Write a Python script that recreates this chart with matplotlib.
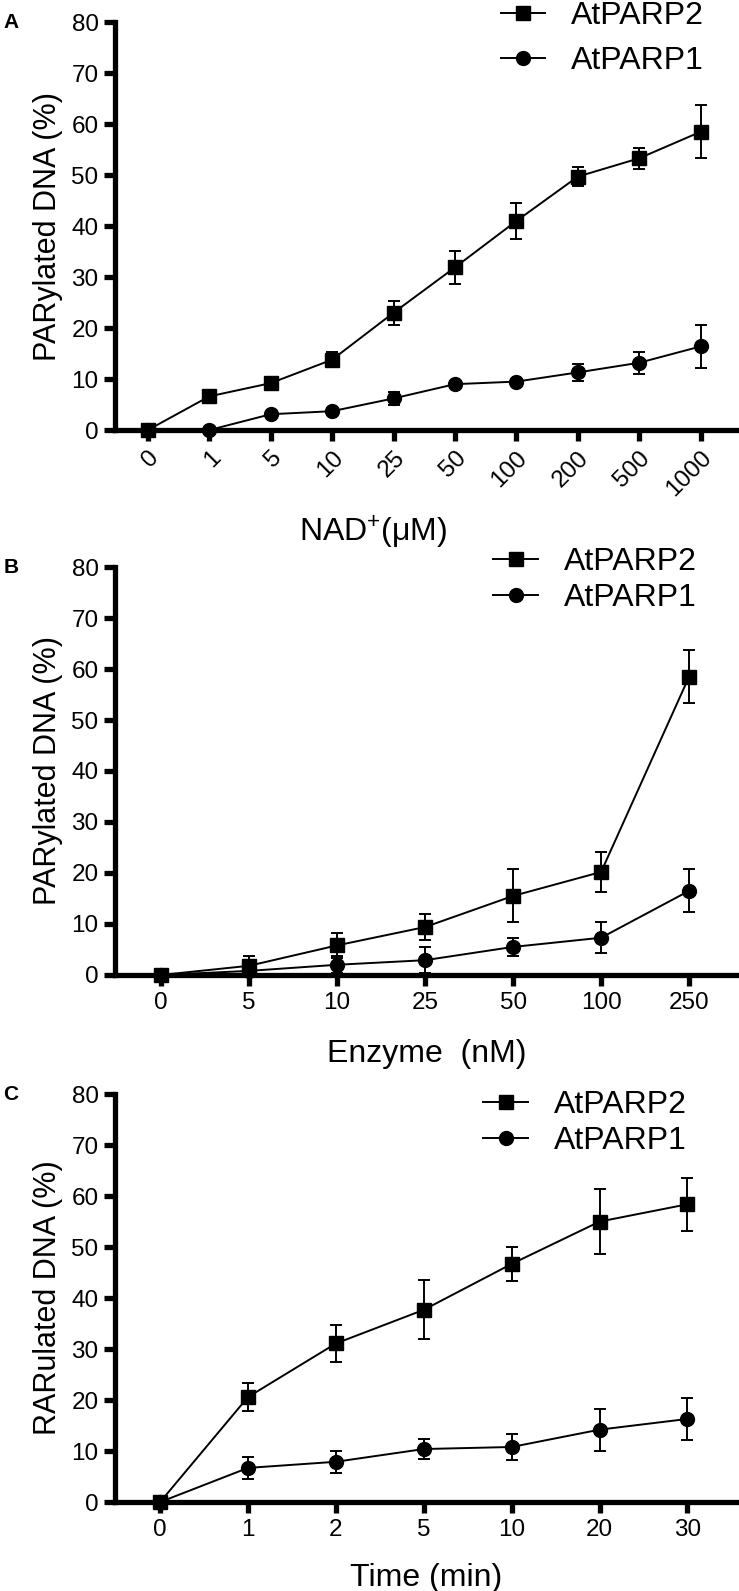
import matplotlib
matplotlib.use("Agg")
import matplotlib.pyplot as plt
from matplotlib.lines import Line2D

plt.rcParams['font.family'] = ['Liberation Sans', 'DejaVu Sans']
plt.rcParams['mathtext.fontset'] = 'custom'
plt.rcParams['mathtext.rm'] = 'Liberation Sans'

# Panel A - NAD+ titration
nad_labels = ['0', '1', '5', '10', '25', '50', '100', '200', '500', '1000']
nad_parp2 = [0, 6.6, 9.2, 13.8, 23.0, 31.9, 41.0, 49.7, 53.3, 58.5]
nad_parp2_err = [0, 0.6, 0.7, 1.5, 2.4, 3.2, 3.5, 1.8, 2.1, 5.2]
nad_parp1 = [0, 0, 3.1, 3.7, 6.2, 9.0, 9.5, 11.3, 13.2, 16.4]
nad_parp1_err = [0, 0, 0.5, 0.5, 1.2, 0.6, 0.5, 1.6, 2.2, 4.2]

# Panel B - enzyme titration
enz_labels = ['0', '5', '10', '25', '50', '100', '250']
enz_parp2 = [0, 1.8, 5.8, 9.4, 15.5, 20.2, 58.5]
enz_parp2_err = [0, 2.0, 2.5, 2.6, 5.2, 4.0, 5.2]
enz_parp1 = [0, 0.8, 2.0, 2.9, 5.5, 7.3, 16.5]
enz_parp1_err = [0, 1.0, 1.7, 2.5, 1.8, 3.0, 4.2]

# Panel C - time course
time_labels = ['0', '1', '2', '5', '10', '20', '30']
time_parp2 = [0, 20.6, 31.1, 37.7, 46.7, 55.0, 58.4]
time_parp2_err = [0, 2.7, 3.7, 5.8, 3.3, 6.3, 5.2]
time_parp1 = [0, 6.7, 7.9, 10.4, 10.8, 14.2, 16.3]
time_parp1_err = [0, 2.1, 2.2, 1.9, 2.5, 4.1, 4.2]

yticks = [0, 10, 20, 30, 40, 50, 60, 70, 80]


def draw_panel(ax, labels, p2, p2e, p1, p1e, xlabel, ylabel, xlim, letter,
               leg_anchor, leg_spacing, rotate=False, xlabel_x=0.5, xlabel_y=-0.1):
    x = list(range(len(labels)))
    for vals, errs, mk in [(p2, p2e, 's'), (p1, p1e, 'o')]:
        ax.errorbar(x, vals, yerr=errs, color='black', marker=mk, markersize=10,
                    linewidth=1.4, elinewidth=1.4, capsize=4.5, capthick=1.4,
                    clip_on=False, zorder=3)
    ax.set_xlim(*xlim)
    ax.set_ylim(0, 80)
    ax.set_yticks(yticks)
    ax.set_xticks(x)
    if rotate:
        ax.set_xticklabels(labels, rotation=45, ha='right', rotation_mode='anchor')
    else:
        ax.set_xticklabels(labels)
    for s in ['top', 'right']:
        ax.spines[s].set_visible(False)
    for s in ['left', 'bottom']:
        ax.spines[s].set_linewidth(3.8)
    ax.tick_params(axis='both', direction='out', length=8, width=3.8, labelsize=17.5, pad=4)
    ax.set_ylabel(ylabel, fontsize=22, labelpad=6)
    ax.set_xlabel(xlabel, fontsize=23)
    ax.xaxis.set_label_coords(xlabel_x, xlabel_y)

    handles = [Line2D([], [], color='black', marker='s', markersize=10, linewidth=1.4),
               Line2D([], [], color='black', marker='o', markersize=10, linewidth=1.4)]
    ax.legend(handles, ['AtPARP2', 'AtPARP1'], loc='upper right', bbox_to_anchor=leg_anchor,
              frameon=False, fontsize=23, handlelength=1.4, handletextpad=0.8,
              labelspacing=leg_spacing, borderpad=0, borderaxespad=0)
    ax.text(-0.18, 1.0, letter, transform=ax.transAxes, fontsize=15, fontweight='bold',
            ha='left', va='center')


fig = plt.figure(figsize=(7.39, 15.91), dpi=100)
left, width, height = 0.156, 0.842, 0.2564
ax_a = fig.add_axes([left, 0.7297, width, height])
ax_b = fig.add_axes([left, 0.3872, width, height])
ax_c = fig.add_axes([left, 0.0559, width, height])

draw_panel(ax_a, nad_labels, nad_parp2, nad_parp2_err, nad_parp1, nad_parp1_err,
           'NAD$^{+}$(μM)', 'PARylated DNA (%)', (-0.53, 9.6), 'A',
           (0.946, 1.051), 0.45, rotate=True, xlabel_x=0.415, xlabel_y=-0.203)
draw_panel(ax_b, enz_labels, enz_parp2, enz_parp2_err, enz_parp1, enz_parp1_err,
           'Enzyme  (nM)', 'PARylated DNA (%)', (-0.52, 6.55), 'B',
           (0.934, 1.049), 0.2, xlabel_y=-0.158)
draw_panel(ax_c, time_labels, time_parp2, time_parp2_err, time_parp1, time_parp1_err,
           'Time (min)', 'RARulated DNA (%)', (-0.51, 6.57), 'C',
           (0.918, 1.01), 0.2, xlabel_y=-0.15)

fig.savefig('out.png', dpi=100)
